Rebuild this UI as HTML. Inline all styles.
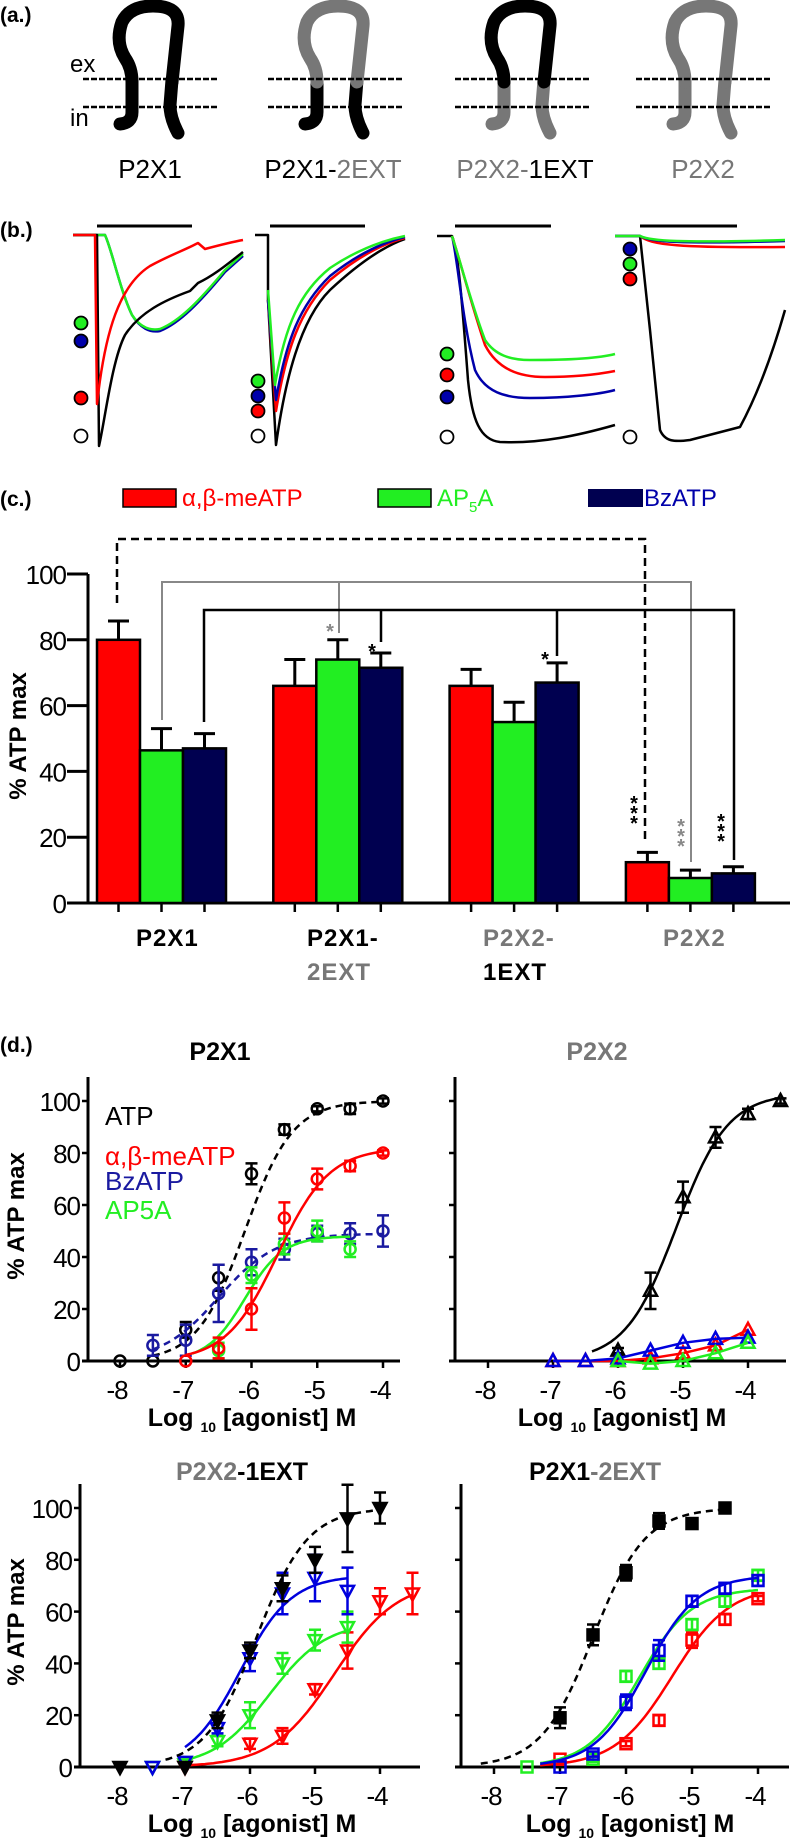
<!DOCTYPE html>
<html><head><meta charset="utf-8"><title>P2X receptor figure</title>
<style>
html,body{margin:0;padding:0;background:#fff;}
svg{display:block;font-family:"Liberation Sans",Arial,sans-serif;}
</style></head>
<body>
<svg id="fig" xmlns="http://www.w3.org/2000/svg" width="798" height="1841" viewBox="0 0 798 1841">
<rect width="798" height="1841" fill="#fff"/>
<!-- (a) -->
<g>
<text x="0" y="22" font-size="21" font-weight="bold">(a.)</text>
<text x="70" y="72" font-size="24">ex</text>
<text x="70" y="126" font-size="24">in</text>
</g>
<g id="proteins"></g>
<!-- (b) -->
<g fill="none" stroke-width="2.5" stroke-linejoin="round">
<text x="0" y="237" font-size="21" font-weight="bold" fill="#000" stroke="none">(b.)</text>
<g>
<line x1="97" y1="226" x2="192" y2="226" stroke="#000" stroke-width="3"/>
<path d="M73,235 L105,235 C112,250 120,290 132,315 C140,328 150,333 160,331 C180,323 200,302 225,272 L243,256" stroke="#0000aa"/>
<path d="M73,235 L105,235 C112,250 120,290 132,315 C140,327 150,331 160,329 C180,321 200,300 225,270 L243,254" stroke="#22ee22"/>
<path d="M73,235 L97,235 L99,446 C105,420 112,360 125,335 C140,312 165,300 190,291 L198,283 C215,275 230,262 243,252" stroke="#000"/>
<path d="M73,235 L95,235 L97,404 C105,330 120,285 150,266 C170,255 185,250 198,243 L205,249 C220,245 232,242 243,240" stroke="#ff0000"/>
</g>
<g>
<line x1="270" y1="226" x2="365" y2="226" stroke="#000" stroke-width="3"/>
<path d="M255,235 L268,235 L268,300 L276,445 C285,380 300,320 330,290 C360,262 385,246 405,239" stroke="#000"/>
<path d="M268,300 L276,411 C286,350 300,310 330,280 C360,255 385,243 405,238" stroke="#ff0000"/>
<path d="M268,300 L276,400 C286,340 300,305 330,276 C360,252 385,242 405,237" stroke="#0000aa"/>
<path d="M268,290 L275,385 C285,325 300,292 330,268 C360,248 385,240 405,236" stroke="#22ee22"/>
</g>
<g>
<line x1="455" y1="226" x2="551" y2="226" stroke="#000" stroke-width="3"/>
<path d="M437,236 L452,236 C458,250 462,300 468,380 C472,420 480,440 500,442 C540,444 580,435 615,425" stroke="#000"/>
<path d="M452,236 C458,260 462,320 475,370 C485,392 505,398 530,398 C570,398 600,394 615,390" stroke="#0000aa"/>
<path d="M452,236 C460,260 470,300 485,345 C498,370 520,377 545,377 C580,377 600,374 615,371" stroke="#ff0000"/>
<path d="M452,236 C460,260 470,300 485,340 C495,355 510,360 530,360 C570,360 600,358 615,354" stroke="#22ee22"/>
</g>
<g>
<line x1="640" y1="226" x2="737" y2="226" stroke="#000" stroke-width="3"/>
<path d="M615,236 L640,236 L650,330 L660,430 C665,442 675,442 690,440 L740,427 C760,390 775,345 785,310" stroke="#000"/>
<path d="M640,236 C650,245 680,248 785,247" stroke="#ff0000"/>
<path d="M615,236 L640,236 C650,242 680,244 785,241" stroke="#0000aa"/>
<path d="M615,236 L640,236 C650,241 680,243 785,240" stroke="#22ee22"/>
</g>
<g stroke="#000" stroke-width="1.8">
<circle cx="81" cy="323" r="6.5" fill="#22ee22"/><circle cx="81" cy="341" r="6.5" fill="#0000aa"/><circle cx="81" cy="398" r="6.5" fill="#ff0000"/><circle cx="81" cy="436" r="6.5" fill="#fff"/>
<circle cx="258" cy="381" r="6.5" fill="#22ee22"/><circle cx="258" cy="396" r="6.5" fill="#0000aa"/><circle cx="258" cy="411" r="6.5" fill="#ff0000"/><circle cx="258" cy="436" r="6.5" fill="#fff"/>
<circle cx="447" cy="354" r="6.5" fill="#22ee22"/><circle cx="447" cy="375" r="6.5" fill="#ff0000"/><circle cx="447" cy="397" r="6.5" fill="#0000aa"/><circle cx="447" cy="437" r="6.5" fill="#fff"/>
<circle cx="630" cy="249" r="6.5" fill="#0000aa"/><circle cx="630" cy="264" r="6.5" fill="#22ee22"/><circle cx="630" cy="279" r="6.5" fill="#ff0000"/><circle cx="630" cy="437" r="6.5" fill="#fff"/>
</g>
</g>
<!-- (c) -->
<g>
<text x="0" y="506" font-size="21" font-weight="bold">(c.)</text>
<rect x="123" y="489" width="53" height="18" fill="#ff0000" stroke="#000" stroke-width="1.5"/>
<text x="182" y="506" font-size="24" fill="#ff0000">α,β-meATP</text>
<rect x="378" y="489" width="53" height="18" fill="#22ee22" stroke="#000" stroke-width="1.5"/>
<text x="437" y="506" font-size="24" fill="#22ee22">AP<tspan font-size="15" dy="6">5</tspan><tspan dy="-6">A</tspan></text>
<rect x="588" y="489" width="55" height="18" fill="#000050"/>
<text x="644" y="506" font-size="24" fill="#0000aa">BzATP</text>
<text transform="translate(26,736) rotate(-90)" text-anchor="middle" font-size="24" font-weight="bold">% ATP max</text>
</g>
<g id="barchart"></g>
<!-- (d) -->
<text x="0" y="1052" font-size="21" font-weight="bold">(d.)</text>
<g id="doseresp"></g>
</svg>
<script>
// ---------- Bar chart data (panel c) ----------
const barGroups = ['P2X1', 'P2X1-2EXT', 'P2X2-1EXT', 'P2X2'];
const barMeATP = [80, 66, 66, 12.4];
const errMeATP = [5.7, 8, 5, 3];
const barAP5A = [46.4, 74, 55, 7.6];
const errAP5A = [6.6, 6, 6, 2.4];
const barBzATP = [47, 71.5, 67, 9];
const errBzATP = [4.5, 4.5, 6, 2];
const barTicks = [0, 20, 40, 60, 80, 100];

// ---------- Dose-response data (panel d) ----------
const xTicks = [-8, -7, -6, -5, -4];
const yTicks = [0, 20, 40, 60, 80, 100];
// P2X1
const p2x1ATPLog = [-8, -7.5, -7, -6.5, -6, -5.5, -5, -4.5, -4];
const p2x1ATP = [0, 0, 12, 32, 72, 89, 97, 97, 100];
const p2x1ATPErr = [0, 0, 3, 5, 4, 2, 1, 2, 1];
const p2x1MeLog = [-7, -6.5, -6, -5.5, -5, -4.5, -4];
const p2x1Me = [0, 5, 20, 55, 70, 75, 80];
const p2x1MeErr = [0, 4, 8, 6, 4, 2, 1];
const p2x1BzLog = [-7.5, -7, -6.5, -6, -5.5, -5, -4.5, -4];
const p2x1Bz = [6, 8, 26, 38, 43, 49, 49, 50];
const p2x1BzErr = [4, 6, 11, 5, 4, 3, 4, 6];
const p2x1ApLog = [-6.5, -6, -5.5, -5, -4.5];
const p2x1Ap = [4, 33, 45, 50, 43];
const p2x1ApErr = [3, 3, 4, 4, 3];
const fitP2x1ATP = [100, -6.1, 1.2, -7.5, -4];
const fitP2x1Me = [82, -5.6, 1.1, -7, -4];
const fitP2x1Bz = [49, -6.5, 1.0, -7.5, -4];
const fitP2x1Ap = [48, -6.1, 1.5, -6.9, -4.5];
// P2X2
const p2x2ATPLog = [-6, -5.5, -5, -4.5, -4, -3.5];
const p2x2ATP = [4, 27, 63, 86, 95, 100];
const p2x2ATPErr = [1, 7, 6, 4, 2, 1];
const p2x2MeLog = [-7, -6.5, -6, -5.5, -5, -4.5, -4];
const p2x2Me = [0, 0, 0, 1, 3, 6, 12];
const p2x2BzLog = [-7, -6.5, -6, -5.5, -5, -4.5, -4];
const p2x2Bz = [0, 0, 1, 4, 7, 8.5, 9];
const p2x2ApLog = [-6, -5.5, -5, -4.5, -4];
const p2x2Ap = [0, -1, 0, 3, 7];
const fitP2x2ATP = [103, -5.1, 1.1, -6.4, -3.5];
// P2X2-1EXT
const e1ATPLog = [-8, -7, -6.5, -6, -5.5, -5, -4.5, -4];
const e1ATP = [0, 0, 18, 45, 69, 80, 96, 100];
const e1ATPErr = [0, 0, 3, 3, 5, 5, 13, 6];
const e1BzLog = [-7.5, -7, -6.5, -6, -5.5, -5, -4.5];
const e1Bz = [0, 2, 15, 42, 67, 73, 68];
const e1BzErr = [0, 0, 2, 5, 8, 9, 9];
const e1ApLog = [-7.5, -7, -6.5, -6, -5.5, -5, -4.5];
const e1Ap = [0, 1, 10, 20, 40, 49, 54];
const e1ApErr = [0, 0, 2, 5, 4, 4, 6];
const e1MeLog = [-7, -6, -5.5, -5, -4.5, -4, -3.5];
const e1Me = [0, 9, 12, 30, 45, 64, 67];
const e1MeErr = [0, 2, 3, 2, 7, 5, 8];
const fitE1ATP = [100, -5.9, 1.1, -7.3, -4];
const fitE1Bz = [74, -6.15, 1.1, -7, -4.5];
const fitE1Ap = [56, -5.7, 1.0, -7, -4.5];
const fitE1Me = [72, -4.7, 0.9, -7, -3.5];
// P2X1-2EXT
const e2ATPLog = [-7, -6.5, -6, -5.5, -5, -4.5];
const e2ATP = [19, 51, 75, 95, 94, 100];
const e2ATPErr = [4, 4, 3, 3, 2, 1];
const e2BzLog = [-7, -6.5, -6, -5.5, -5, -4.5, -4];
const e2Bz = [0, 5, 25, 45, 64, 69, 72];
const e2BzErr = [0, 1, 3, 4, 2, 2, 2];
const e2ApLog = [-7.5, -6.5, -6, -5.5, -5, -4.5, -4];
const e2Ap = [0, 3, 35, 40, 55, 64, 74];
const e2ApErr = [0, 1, 2, 2, 2, 2, 2];
const e2MeLog = [-7, -6.5, -6, -5.5, -5, -4.5, -4];
const e2Me = [3, 3, 9, 18, 49, 57, 65];
const e2MeErr = [0, 0, 1, 2, 3, 2, 1];
const fitE2ATP = [100, -6.5, 1.1, -8.2, -4.5];
const fitE2Bz = [74, -5.7, 1.1, -7.3, -4];
const fitE2Ap = [69, -5.8, 1.1, -7.3, -4];
const fitE2Me = [70, -5.3, 1.0, -7.3, -4];

const NS = 'http://www.w3.org/2000/svg';
function mk(tag, parent) { const e = document.createElementNS(NS, tag); parent.appendChild(e); return e; }
function at(e, o) { for (const k in o) e.setAttribute(k, o[k]); return e; }

// ---------- proteins (panel a) ----------
(function () {
  const g = document.getElementById('proteins');
  const centers = [150, 335, 522, 703];
  const cols = [['#000', '#000'], ['#777', '#000'], ['#000', '#777'], ['#777', '#777']];
  const names = ['p2x1', 'p2x1-2ext', 'p2x2-1ext', 'p2x2'];
  centers.forEach((cx, i) => {
    const pg = mk('g', g);
    at(pg, { transform: 'translate(' + cx + ',0)', fill: 'none', 'stroke-width': 13, 'stroke-linecap': 'round', 'stroke-linejoin': 'round' });
    
    
    const legs = mk('path', pg);
    at(legs, { d: 'M-18,80 L-18,112 Q-18,123 -30,124 M22,80 L20,105 Q20,118 28,133', stroke: cols[i][1] });
    const loop = mk('path', pg);
    at(loop, { d: 'M-18,82 Q-18,68 -25,58 Q-35,42 -28,22 Q-20,6 3,6 Q30,6 28,26 L22,82', stroke: cols[i][0] });
    [79, 107].forEach(y => {
      const l = mk('line', pg);
      at(l, { x1: -67, x2: 68, y1: y, y2: y, stroke: '#000', 'stroke-width': 2.5, 'stroke-dasharray': '6,2', 'stroke-linecap': 'butt' });
    });
  });
  const labels = [[150, [['P2X1', '#000']]], [333, [['P2X1-', '#000'], ['2EXT', '#777']]], [525, [['P2X2-', '#777'], ['1EXT', '#000']]], [703, [['P2X2', '#777']]]];
  labels.forEach((lb, i) => {
    const t = mk('text', g);
    at(t, { x: lb[0], y: 178, 'text-anchor': 'middle', 'font-size': 26 });
    
    
    lb[1].forEach(p => { const s = mk('tspan', t); at(s, { fill: p[1] }); s.textContent = p[0]; });
  });
})();

// ---------- bar chart (panel c) ----------
(function () {
  const g = document.getElementById('barchart');
  const y0 = 903, k = 3.29;
  const yC = v => y0 - v * k;
  const xC = (gi, s) => 97 + gi * 176.3 + s * 43;
  const ax = mk('path', g);
  at(ax, { d: 'M88,' + yC(100) + ' L88,' + y0 + ' M67,' + y0 + ' L790,' + y0, stroke: '#000', 'stroke-width': 3, fill: 'none' });
  
  
  barTicks.forEach(t => {
    const l = mk('line', g);
    at(l, { x1: 67, x2: 88, y1: yC(t), y2: yC(t), stroke: '#000', 'stroke-width': 3 });
    const tx = mk('text', g);
    at(tx, { x: 66, y: yC(t) + 10, 'text-anchor': 'end', 'font-size': 26, 'letter-spacing': '-1' });
    
    
    tx.textContent = t;
  });
  const series = [[barMeATP, errMeATP, '#ff0000', 'meatp'], [barAP5A, errAP5A, '#22ee22', 'ap5a'], [barBzATP, errBzATP, '#000050', 'bzatp']];
  barGroups.forEach((grp, gi) => {
    series.forEach((s, si) => {
      const x = xC(gi, si), v = s[0][gi], e = s[1][gi];
      const eb = mk('path', g);
      at(eb, { d: 'M' + (x + 21.5) + ',' + yC(v) + ' L' + (x + 21.5) + ',' + yC(v + e) + ' M' + (x + 11) + ',' + yC(v + e) + ' L' + (x + 32) + ',' + yC(v + e), stroke: '#000', 'stroke-width': 3 });
      
      
      const r = mk('rect', g);
      at(r, { x: x, y: yC(v), width: 43, height: v * k, fill: s[2], stroke: '#000', 'stroke-width': 2.5 });
      
      
    });
    const tk = mk('path', g);
    let d = '';
    for (let si = 0; si < 3; si++) { const cx = xC(gi, si) + 21.5; d += 'M' + cx + ',' + y0 + ' L' + cx + ',' + (y0 + 9) + ' '; }
    at(tk, { d: d, stroke: '#000', 'stroke-width': 2.5 });
  });
  const cats = [[136, [['P2X1', '#000']], null], [307, [['P2X1-', '#000']], [['2EXT', '#777']]], [483, [['P2X2-', '#777']], [['1EXT', '#000']]], [663, [['P2X2', '#777']], null]];
  cats.forEach((c, i) => {
    [c[1], c[2]].forEach((line, li) => {
      if (!line) return;
      const t = mk('text', g);
      at(t, { x: c[0], y: 946 + li * 34, 'font-size': 24, 'font-weight': 'bold', 'letter-spacing': '1' });
      
      
      line.forEach(p => { const s = mk('tspan', t); at(s, { fill: p[1] }); s.textContent = p[0]; });
    });
  });
  const br = [
    ['M117,603 L117,539 L645,539 L645,842', '#000', '8,5', 2.5],
    ['M162,720 L162,582 L691,582 L691,862 M339,582 L339,633', '#888', null, 2],
    ['M204,722 L204,610 L734,610 L734,860 M381,610 L381,642 M557,610 L557,656', '#000', null, 2.5]
  ];
  br.forEach(b => {
    const p = mk('path', g);
    at(p, { d: b[0], stroke: b[1], 'stroke-width': b[3], fill: 'none' });
    if (b[2]) p.setAttribute('stroke-dasharray', b[2]);
    
    
  });
  const stars = [[330, 630, '#888', 1], [372, 650, '#000', 1], [545, 658, '#000', 1], [634, 822, '#000', 3], [681, 845, '#888', 3], [721, 840, '#000', 3]];
  stars.forEach(s => {
    for (let j = 0; j < s[3]; j++) {
      const t = mk('text', g);
      at(t, { x: s[0], y: s[1] - (s[3] - 1 - j) * 10 + 8, 'font-size': 20, 'font-weight': 'bold', fill: s[2], 'text-anchor': 'middle' });
      
      
      t.textContent = '*';
    }
  });
})();

// ---------- dose-response panels (d) ----------
function hill(p, x) { return p[0] / (1 + Math.pow(10, (p[1] - x) * p[2])); }
function marker(g, shape, x, y, color, filled) {
  let m;
  if (shape === 'circle') { m = mk('circle', g); at(m, { cx: x, cy: y, r: 5.5 }); }
  else if (shape === 'square') { m = mk('rect', g); at(m, { x: x - 5.5, y: y - 5.5, width: 11, height: 11 }); }
  else if (shape === 'tri') { m = mk('path', g); at(m, { d: 'M' + x + ',' + (y - 7) + ' L' + (x + 6.5) + ',' + (y + 5) + ' L' + (x - 6.5) + ',' + (y + 5) + 'Z' }); }
  else { m = mk('path', g); at(m, { d: 'M' + x + ',' + (y + 7) + ' L' + (x + 6.5) + ',' + (y - 5) + ' L' + (x - 6.5) + ',' + (y - 5) + 'Z' }); }
  at(m, { fill: filled ? color : 'none', stroke: color, 'stroke-width': 2.5 });
  return m;
}
function panel(cfg) {
  const root = document.getElementById('doseresp');
  const g = mk('g', root);
  
  
  const X = v => cfg.x8 + (v + 8) * cfg.dx;
  const Y = v => cfg.y0 - v * cfg.ky;
  const ax = mk('path', g);
  at(ax, { d: 'M' + cfg.ax + ',' + cfg.top + ' L' + cfg.ax + ',' + cfg.y0 + ' M' + (cfg.ax - 6) + ',' + cfg.y0 + ' L' + cfg.xend + ',' + cfg.y0, stroke: '#000', 'stroke-width': 3, fill: 'none' });
  
  
  yTicks.forEach(t => {
    const l = mk('line', g);
    at(l, { x1: cfg.ax - 6, x2: cfg.ax, y1: Y(t), y2: Y(t), stroke: '#000', 'stroke-width': 2.5 });
    if (cfg.ylabels) {
      const tx = mk('text', g);
      at(tx, { x: cfg.ax - 8, y: Y(t) + 10, 'text-anchor': 'end', 'font-size': 26, 'letter-spacing': '-1' });
      
      
      tx.textContent = t;
    }
  });
  xTicks.forEach(t => {
    const l = mk('line', g);
    at(l, { x1: X(t), x2: X(t), y1: cfg.y0, y2: cfg.y0 + 7, stroke: '#000', 'stroke-width': 2.5 });
    const tx = mk('text', g);
    at(tx, { x: X(t) - 3, y: cfg.y0 + 38, 'text-anchor': 'middle', 'font-size': 26, 'letter-spacing': '-1' });
    
    
    tx.textContent = t;
  });
  const xt = mk('text', g);
  at(xt, { x: cfg.xtc, y: cfg.y0 + 65, 'text-anchor': 'middle', 'font-size': 25, 'font-weight': 'bold' });
  
  
  xt.innerHTML = 'Log <tspan font-size="14" dy="6">10</tspan><tspan dy="-6"> [agonist] M</tspan>';
  if (cfg.ylabels) {
    const yt = mk('text', g);
    at(yt, { transform: 'translate(' + 24 + ',' + (cfg.y0 - 145) + ') rotate(-90)', 'text-anchor': 'middle', 'font-size': 24, 'font-weight': 'bold' });
    
    
    yt.textContent = '% ATP max';
  }
  const tt = mk('text', g);
  at(tt, { x: cfg.tx, y: cfg.ty, 'text-anchor': 'middle', 'font-size': 25, 'font-weight': 'bold' });
  
  
  cfg.title.forEach(p => { const s = mk('tspan', tt); at(s, { fill: p[1] }); s.textContent = p[0]; });
  cfg.series.forEach(s => {
    const sg = mk('g', g);
    
    
    let d = '';
    if (s.fit) {
      const f = s.fit;
      for (let i = 0; i <= 80; i++) { const xv = f[3] + (f[4] - f[3]) * i / 80; d += (i ? 'L' : 'M') + X(xv).toFixed(1) + ',' + Y(hill(f, xv)).toFixed(1) + ' '; }
    } else {
      s.log.forEach((xv, i) => { d += (i ? 'L' : 'M') + X(xv) + ',' + Y(s.val[i]) + ' '; });
    }
    const ln = mk('path', sg);
    at(ln, { d: d, fill: 'none', stroke: s.color, 'stroke-width': 2.5 });
    if (s.dash) ln.setAttribute('stroke-dasharray', '7,5');
    
    
    s.log.forEach((xv, i) => {
      const e = s.err ? s.err[i] : 0;
      if (e > 0) {
        const eb = mk('path', sg);
        const x = X(xv);
        at(eb, { d: 'M' + x + ',' + Y(s.val[i] - e) + ' L' + x + ',' + Y(s.val[i] + e) + ' M' + (x - 6) + ',' + Y(s.val[i] + e) + ' L' + (x + 6) + ',' + Y(s.val[i] + e) + ' M' + (x - 6) + ',' + Y(s.val[i] - e) + ' L' + (x + 6) + ',' + Y(s.val[i] - e), stroke: s.color, 'stroke-width': 2.5, fill: 'none' });
        
        
      }
      const m = marker(sg, s.shape, X(xv), Y(s.val[i]), s.color, s.filled);
      
      
    });
  });
  if (cfg.legend) {
    cfg.legend.forEach((l, i) => {
      const t = mk('text', g);
      at(t, { x: 105, y: l[2], 'font-size': 26, fill: l[1] });
      
      
      t.textContent = l[0];
    });
  }
}
const BLK = '#000', RED = '#ff0000', GRN = '#22ee22', BLU = '#0000dd', NAV = '#1a1aa0';
panel({ name: 'panel-d-p2x1', x8: 120, dx: 65.75, y0: 1361, ky: 2.6, ax: 88, top: 1077, xend: 400, xtc: 252, ylabels: true,
  tx: 220, ty: 1060, title: [['P2X1', '#000']],
  legend: [['ATP', BLK, 1125], ['α,β-meATP', RED, 1165], ['BzATP', NAV, 1190], ['AP5A', GRN, 1219]],
  series: [
    { id: 'atp', log: p2x1ATPLog, val: p2x1ATP, err: p2x1ATPErr, fit: fitP2x1ATP, color: BLK, shape: 'circle', dash: true },
    { id: 'bzatp', log: p2x1BzLog, val: p2x1Bz, err: p2x1BzErr, fit: fitP2x1Bz, color: NAV, shape: 'circle', dash: true },
    { id: 'ap5a', log: p2x1ApLog, val: p2x1Ap, err: p2x1ApErr, fit: fitP2x1Ap, color: GRN, shape: 'circle' },
    { id: 'meatp', log: p2x1MeLog, val: p2x1Me, err: p2x1MeErr, fit: fitP2x1Me, color: RED, shape: 'circle' }
  ] });
panel({ name: 'panel-d-p2x2', x8: 488, dx: 65, y0: 1361, ky: 2.6, ax: 455, top: 1077, xend: 786, xtc: 622, ylabels: false,
  tx: 597, ty: 1060, title: [['P2X2', '#777']],
  series: [
    { id: 'atp', log: p2x2ATPLog, val: p2x2ATP, err: p2x2ATPErr, fit: fitP2x2ATP, color: BLK, shape: 'tri' },
    { id: 'meatp', log: p2x2MeLog, val: p2x2Me, color: RED, shape: 'tri' },
    { id: 'bzatp', log: p2x2BzLog, val: p2x2Bz, color: BLU, shape: 'tri' },
    { id: 'ap5a', log: p2x2ApLog, val: p2x2Ap, color: GRN, shape: 'tri' }
  ] });
panel({ name: 'panel-d-p2x2-1ext', x8: 120, dx: 65, y0: 1767, ky: 2.59, ax: 80, top: 1484, xend: 420, xtc: 252, ylabels: true,
  tx: 242, ty: 1480, title: [['P2X2', '#777'], ['-1EXT', '#000']],
  series: [
    { id: 'meatp', log: e1MeLog, val: e1Me, err: e1MeErr, fit: fitE1Me, color: RED, shape: 'tri-down' },
    { id: 'ap5a', log: e1ApLog, val: e1Ap, err: e1ApErr, fit: fitE1Ap, color: GRN, shape: 'tri-down' },
    { id: 'bzatp', log: e1BzLog, val: e1Bz, err: e1BzErr, fit: fitE1Bz, color: BLU, shape: 'tri-down' },
    { id: 'atp', log: e1ATPLog, val: e1ATP, err: e1ATPErr, fit: fitE1ATP, color: BLK, shape: 'tri-down', filled: true, dash: true }
  ] });
panel({ name: 'panel-d-p2x1-2ext', x8: 494, dx: 66, y0: 1767, ky: 2.59, ax: 461, top: 1484, xend: 789, xtc: 630, ylabels: false,
  tx: 595, ty: 1480, title: [['P2X1', '#000'], ['-2EXT', '#777']],
  series: [
    { id: 'meatp', log: e2MeLog, val: e2Me, err: e2MeErr, fit: fitE2Me, color: RED, shape: 'square' },
    { id: 'ap5a', log: e2ApLog, val: e2Ap, err: e2ApErr, fit: fitE2Ap, color: GRN, shape: 'square' },
    { id: 'bzatp', log: e2BzLog, val: e2Bz, err: e2BzErr, fit: fitE2Bz, color: BLU, shape: 'square' },
    { id: 'atp', log: e2ATPLog, val: e2ATP, err: e2ATPErr, fit: fitE2ATP, color: BLK, shape: 'square', filled: true, dash: true }
  ] });
</script>
</body></html>
